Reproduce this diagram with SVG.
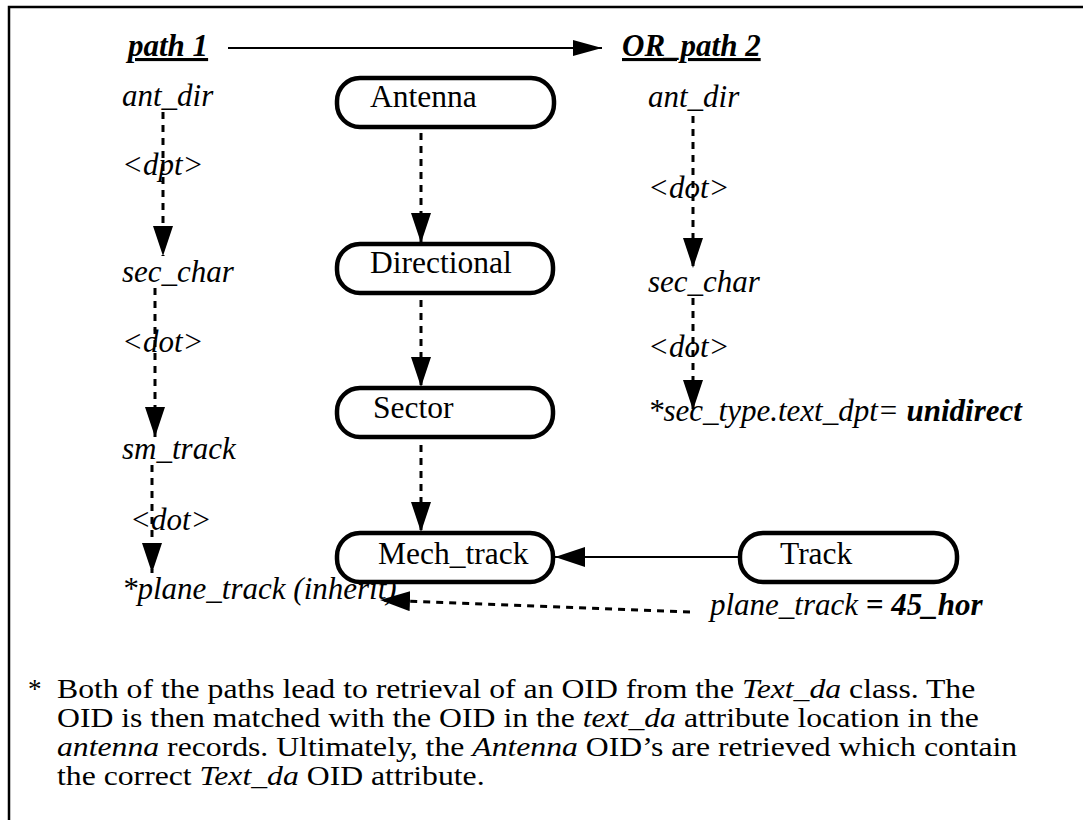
<svg xmlns="http://www.w3.org/2000/svg" width="1083" height="820" viewBox="0 0 1083 820">
<style>
text{font-family:"Liberation Serif","Times New Roman",serif;fill:#000}
.lbl{font-size:31px;font-style:italic}
.node{font-size:31.5px}
.body{font-size:27px}
.it{font-style:italic}
.hdr{font-size:31px;font-style:italic;font-weight:bold;text-decoration:underline}
.box{fill:#fff;stroke:#000;stroke-width:4.5}
.dash{fill:none;stroke:#000;stroke-width:3;stroke-dasharray:7 6}
.solid{fill:none;stroke:#000;stroke-width:2.2}
</style>
<defs>
<marker id="ah" markerUnits="userSpaceOnUse" markerWidth="30" markerHeight="20" refX="30" refY="10" orient="auto">
<path d="M0,0 L30,10 L0,20 Z" fill="#000"/>
</marker>
<marker id="ahs" markerUnits="userSpaceOnUse" markerWidth="29" markerHeight="16" refX="29" refY="8" orient="auto">
<path d="M0,0 L29,8 L0,16 Z" fill="#000"/>
</marker>
</defs>
<rect width="1083" height="820" fill="#fff"/>
<path d="M9,820 L9,7 L1083,7" fill="none" stroke="#000" stroke-width="2.5"/>

<g id="connectors">
<line class="solid" x1="228" y1="48" x2="602" y2="48" marker-end="url(#ahs)"/>
<line class="dash" x1="421" y1="133" x2="421" y2="243" marker-end="url(#ah)"/>
<line class="dash" x1="421" y1="300" x2="421" y2="387" marker-end="url(#ah)"/>
<line class="dash" x1="421" y1="445" x2="421" y2="532" marker-end="url(#ah)"/>
<line class="solid" x1="740" y1="557" x2="555" y2="557" stroke-width="2.5" marker-end="url(#ah)"/>
<line class="dash" x1="163" y1="112" x2="163" y2="256" marker-end="url(#ah)"/>
<line class="dash" x1="155" y1="288" x2="155" y2="437" marker-end="url(#ah)"/>
<line class="dash" x1="152" y1="465" x2="152" y2="573" marker-end="url(#ah)"/>
<line class="dash" x1="693" y1="116" x2="693" y2="268" marker-end="url(#ah)"/>
<line class="dash" x1="693" y1="298" x2="693" y2="410" marker-end="url(#ah)"/>
<line class="dash" x1="690" y1="612" x2="380" y2="600" stroke-width="2.5" marker-end="url(#ah)"/>
</g>

<g id="path1-labels">
<text class="hdr" x="128" y="56">path 1</text>
<text class="lbl" x="122" y="106">ant_dir</text>
<text class="lbl" x="122" y="175">&lt;dpt&gt;</text>
<text class="lbl" x="122" y="282">sec_char</text>
<text class="lbl" x="122" y="352">&lt;dot&gt;</text>
<text class="lbl" x="122" y="459">sm_track</text>
<text class="lbl" x="130" y="530">&lt;dot&gt;</text>
<text class="lbl" x="122" y="599">*plane_track (inherit)</text>
</g>

<g id="path2-labels">
<text class="hdr" x="622" y="56">OR_path 2</text>
<text class="lbl" x="648" y="107">ant_dir</text>
<text class="lbl" x="648" y="198">&lt;dot&gt;</text>
<text class="lbl" x="648" y="292">sec_char</text>
<text class="lbl" x="648" y="357">&lt;dot&gt;</text>
<text class="lbl" x="648" y="421">*sec_type.text_dpt= <tspan font-weight="bold">unidirect</tspan></text>
<text class="lbl" x="710" y="615">plane_track <tspan font-weight="bold">= 45_hor</tspan></text>
</g>

<g id="node-antenna">
<rect class="box" x="337" y="78" width="217" height="49" rx="23"/>
<text class="node" x="370" y="107">Antenna</text>
</g>
<g id="node-directional">
<rect class="box" x="337" y="244" width="216" height="49" rx="23"/>
<text class="node" x="370" y="273">Directional</text>
</g>
<g id="node-sector">
<rect class="box" x="337" y="388" width="216" height="49" rx="23"/>
<text class="node" x="373" y="418">Sector</text>
</g>
<g id="node-mech-track">
<rect class="box" x="337" y="533" width="216" height="49" rx="23"/>
<text class="node" x="378" y="564">Mech_track</text>
</g>
<g id="node-track">
<rect class="box" x="740" y="533" width="217" height="49" rx="23"/>
<text class="node" x="780" y="564">Track</text>
</g>

<g id="note">
<text class="body" x="28" y="698">*</text>
<text class="body" transform="translate(57,0) scale(1.175,1) translate(-57,0)"><tspan x="57" y="698">Both of the paths lead to retrieval of an OID from the <tspan class="it">Text_da</tspan> class. The</tspan><tspan x="57" y="727">OID is then matched with the OID in the <tspan class="it">text_da</tspan> attribute location in the</tspan><tspan x="57" y="756"><tspan class="it">antenna</tspan> records. Ultimately, the <tspan class="it">Antenna</tspan> OID’s are retrieved which contain</tspan><tspan x="57" y="785">the correct <tspan class="it">Text_da</tspan> OID attribute.</tspan></text>
</g>
</svg>
